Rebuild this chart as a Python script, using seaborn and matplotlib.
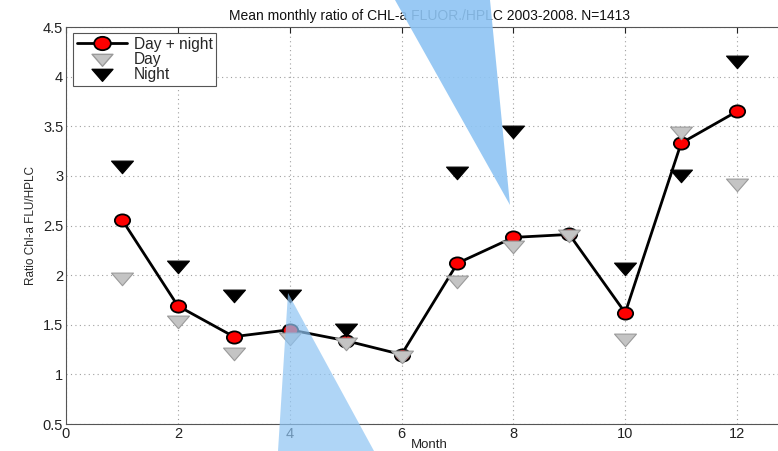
import numpy as np
import pandas as pd
import seaborn as sns
import matplotlib
matplotlib.use("Agg")
import matplotlib.pyplot as plt
from matplotlib.patches import Polygon
from matplotlib.lines import Line2D
from matplotlib.path import Path

months = [1, 2, 3, 4, 5, 6, 7, 8, 9, 10, 11, 12]
day_night = [2.56, 1.69, 1.38, 1.45, 1.34, 1.20, 2.12, 2.38, 2.41, 1.62, 3.33, 3.65]
day = [1.98, 1.55, 1.23, 1.38, 1.33, 1.20, 1.95, 2.30, 2.41, 1.37, 3.45, 2.93]
night = [3.11, 2.10, 1.81, 1.81, 1.47, np.nan, 3.05, 3.46, np.nan, 2.08, 3.02, 4.17]

title = "Mean monthly ratio of CHL-a FLUOR./HPLC 2003-2008. N=1413"
xlabel = "Month"
ylabel = "Ratio Chl-a FLU/HPLC"
xticks = [0, 2, 4, 6, 8, 10, 12]
yticks = [0.5, 1, 1.5, 2, 2.5, 3, 3.5, 4, 4.5]

df = pd.DataFrame({"month": months, "dn": day_night, "day": day, "night": night})

sns.set_style("white")
plt.rcParams["font.family"] = ["Liberation Sans", "DejaVu Sans"]

# flattened downward triangle and slightly wide ellipse, like the reference
tri = Path([(-1.0, 0.4), (1.0, 0.4), (0.0, -0.75), (-1.0, 0.4)],
           [Path.MOVETO, Path.LINETO, Path.LINETO, Path.CLOSEPOLY])
uc = Path.unit_circle()
ell = Path(uc.vertices * np.array([1.0, 0.8]), uc.codes)

fig = plt.figure(figsize=(7.78, 4.51), dpi=100)
ax = fig.add_axes([66 / 778, 1 - 424 / 451, (793 - 66) / 778, (424 - 27) / 451])

sns.lineplot(data=df, x="month", y="dn", ax=ax, color="black", linewidth=2,
             marker=ell, markersize=11, markerfacecolor="red",
             markeredgecolor="black", markeredgewidth=1.3, zorder=3)
sns.scatterplot(data=df, x="month", y="day", ax=ax, marker=tri, s=250,
                color="#c4c4c4", edgecolor="#9a9a9a", linewidth=0.8, zorder=4)
sns.scatterplot(data=df.dropna(), x="month", y="night", ax=ax, marker=tri, s=250,
                color="black", edgecolor="black", linewidth=0.8, zorder=5)

ax.set_xlim(0, 13)
ax.set_ylim(0.5, 4.5)
ax.set_xticks(xticks)
ax.set_yticks(yticks)
ax.set_yticklabels(["0.5", "1", "1.5", "2", "2.5", "3", "3.5", "4", "4.5"])
ax.tick_params(direction="in", top=True, right=True, length=4, width=0.8,
               labelsize=10.5, colors="#222222", pad=2)
ax.grid(True, linestyle=(0, (1, 3)), color="#a0a0a0", linewidth=0.8)
for s in ax.spines.values():
    s.set_color("#555555")
    s.set_linewidth(0.8)

ax.set_title(title, fontsize=10, color="#111111", pad=5)
ax.set_xlabel(xlabel, fontsize=9.5, labelpad=-1)
ax.set_ylabel(ylabel, fontsize=8.5, labelpad=4)

handles = [
    Line2D([0], [0], color="black", lw=2, marker=ell, markersize=12,
           markerfacecolor="red", markeredgecolor="black", markeredgewidth=1.3),
    Line2D([0], [0], ls="none", marker=tri, markersize=15,
           markerfacecolor="#c4c4c4", markeredgecolor="#9a9a9a"),
    Line2D([0], [0], ls="none", marker=tri, markersize=15,
           markerfacecolor="black", markeredgecolor="black"),
]
leg = ax.legend(handles, ["Day + night", "Day", "Night"], loc="upper left",
                bbox_to_anchor=(0.0095, 0.985), fontsize=11.2, frameon=True,
                fancybox=False, edgecolor="#555555", framealpha=1,
                handlelength=3.2, labelspacing=0.0, borderpad=0.25,
                handletextpad=0.45, borderaxespad=0)
leg.get_frame().set_linewidth(0.8)

# decorative callout wedges present in the reference image
def fig_poly(pts, **kw):
    pts = [(x / 778, 1 - y / 451) for x, y in pts]
    fig.patches.append(Polygon(pts, closed=True, transform=fig.transFigure,
                               figure=fig, **kw))

fig_poly([(395, 0), (490, 0), (510, 205)], facecolor="#8ec4f3",
         alpha=0.9, edgecolor="none", zorder=10)
fig_poly([(288, 293), (278, 451), (374, 451)], facecolor="#8ec4f3", alpha=0.7,
         edgecolor="none", zorder=10)

fig.savefig("out.png", dpi=100)
